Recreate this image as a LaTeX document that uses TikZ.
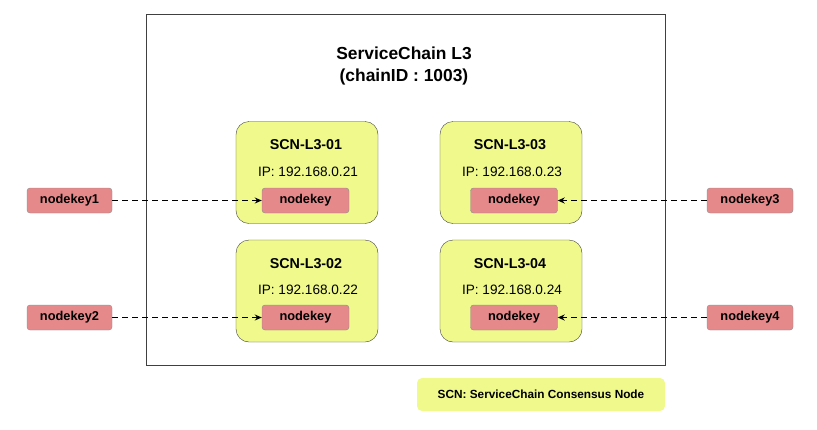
\documentclass[tikz,border=0pt]{standalone}
\usepackage{fontspec}
\setmainfont{Liberation Sans}
\usetikzlibrary{arrows.meta}

\definecolor{scnyellow}{HTML}{F0F98C}
\definecolor{keypink}{HTML}{E6898B}
\definecolor{keyline}{HTML}{8C8C8C}

\tikzset{
    scnbox/.style={draw=black!75, fill=scnyellow, rounded corners=13pt, minimum width=142pt, minimum height=102pt, inner sep=0pt},
    keybox/.style={draw=keyline, fill=keypink, rounded corners=3pt, minimum width=87pt, minimum height=25pt, inner sep=0pt, font=\fontsize{12.8}{14}\selectfont\bfseries},
    keylink/.style={line width=1.6pt, dash pattern=on 6pt off 4pt, -{Stealth[length=7pt,width=6pt]}}
}

\begin{document}
\begin{tikzpicture}[x=1pt, y=-1pt]
        \useasboundingbox (0,0) rectangle (817,429);

        % Draw the chain frame
        \draw[black!75] (146,14) rectangle (665,365);
        \node[font=\fontsize{17.4}{21.5}\selectfont\bfseries, align=center] (chain) at (404,66) {ServiceChain L3\\(chainID : 1003)};

        % Define the four consensus nodes
        \node[scnbox] (scn1) at (307,172.5) {};
        \node[scnbox] (scn2) at (307,291) {};
        \node[scnbox] (scn3) at (511,172.5) {};
        \node[scnbox] (scn4) at (511,291) {};

        % Titles and addresses
        \node[font=\fontsize{14.3}{16}\selectfont\bfseries] (t1) at (306,145) {SCN-L3-01};
        \node[font=\fontsize{13.6}{15}\selectfont] (ip1) at (308,172) {IP: 192.168.0.21};
        \node[font=\fontsize{14.3}{16}\selectfont\bfseries] (t2) at (306,264) {SCN-L3-02};
        \node[font=\fontsize{13.6}{15}\selectfont] (ip2) at (308,290) {IP: 192.168.0.22};
        \node[font=\fontsize{14.3}{16}\selectfont\bfseries] (t3) at (510,145) {SCN-L3-03};
        \node[font=\fontsize{13.6}{15}\selectfont] (ip3) at (512,172) {IP: 192.168.0.23};
        \node[font=\fontsize{14.3}{16}\selectfont\bfseries] (t4) at (510,264) {SCN-L3-04};
        \node[font=\fontsize{13.6}{15}\selectfont] (ip4) at (512,290) {IP: 192.168.0.24};

        % Keys inside the nodes
        \node[keybox] (k1) at (305.5,200.5) {nodekey};
        \node[keybox] (k2) at (305.5,317.5) {nodekey};
        \node[keybox] (k3) at (514,200.5) {nodekey};
        \node[keybox] (k4) at (514,317.5) {nodekey};

        % Keys outside
        \node[keybox, minimum width=85pt] (key1) at (69.5,200.5) {nodekey1};
        \node[keybox, minimum width=85pt] (key2) at (69.5,317.5) {nodekey2};
        \node[keybox, minimum width=86pt] (key3) at (750,200.5) {nodekey3};
        \node[keybox, minimum width=86pt] (key4) at (750,317.5) {nodekey4};

        \draw[keylink] (key1) -- (k1);
        \draw[keylink] (key2) -- (k2);
        \draw[keylink] (key3) -- (k3);
        \draw[keylink] (key4) -- (k4);

        % Legend
        \node[fill=scnyellow, rounded corners=5pt, minimum width=248pt, minimum height=33pt, font=\fontsize{11.8}{14}\selectfont\bfseries] (legend) at (541,394.5) {SCN: ServiceChain Consensus Node};

    \end{tikzpicture}
\end{document}
